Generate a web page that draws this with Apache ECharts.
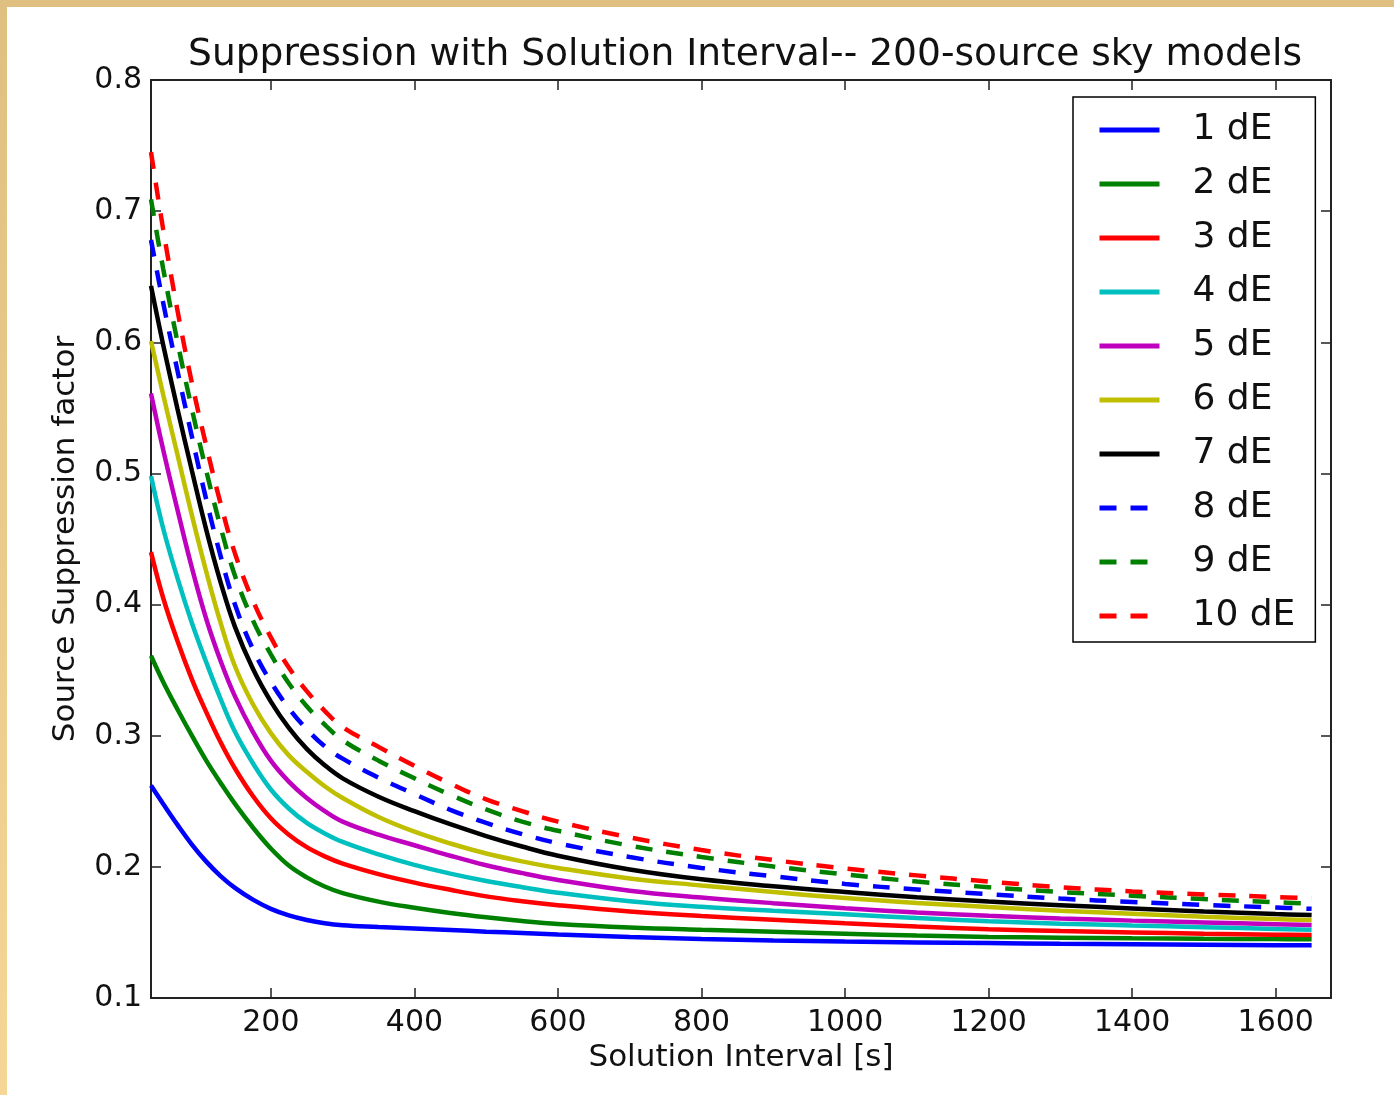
<!DOCTYPE html>
<html>
<head>
<meta charset="utf-8">
<script src="https://cdn.jsdelivr.net/npm/echarts@6/dist/echarts.min.js"></script>
<style>
  html, body { margin: 0; padding: 0; background: #fff; }
  #wrap { position: relative; width: 1394px; height: 1095px; background: #fff; overflow: hidden; }
  #chart { position: absolute; left: 0; top: 0; width: 1394px; height: 1095px; }
  #bandTop { position: absolute; left: 0; top: 0; width: 1394px; height: 7px; background: #dfc080; z-index: 5; }
  #bandLeft { position: absolute; left: 0; top: 0; width: 7px; height: 1095px; background: linear-gradient(#dfc080, #f6d696); z-index: 5; }
</style>
</head>
<body>
<div id="wrap">
  <div id="chart"></div>
  <div id="bandTop"></div>
  <div id="bandLeft"></div>
</div>
<script>
// Solution interval [s]
const xValues = [33, 50, 70, 90, 110, 130, 150, 175, 200, 225, 250, 275, 300, 350, 400, 450, 500, 550, 600, 700, 800, 900, 1000, 1100, 1200, 1300, 1400, 1500, 1600, 1650];

const dE1 = [0.262, 0.248, 0.232, 0.217, 0.204, 0.193, 0.184, 0.175, 0.168, 0.163, 0.1595, 0.157, 0.1555, 0.1542, 0.153, 0.1518, 0.1506, 0.1495, 0.1484, 0.1465, 0.145, 0.1439, 0.143, 0.1424, 0.1419, 0.1414, 0.141, 0.1406, 0.1403, 0.1402];
const dE2 = [0.361, 0.341, 0.320, 0.300, 0.281, 0.264, 0.248, 0.230, 0.214, 0.201, 0.192, 0.185, 0.180, 0.1735, 0.1688, 0.1648, 0.1615, 0.1587, 0.1565, 0.1538, 0.152, 0.1505, 0.149, 0.1476, 0.1466, 0.146, 0.1455, 0.1451, 0.1449, 0.1448];
const dE3 = [0.440, 0.405, 0.372, 0.343, 0.318, 0.295, 0.275, 0.254, 0.237, 0.2245, 0.215, 0.208, 0.2025, 0.1945, 0.188, 0.1825, 0.1775, 0.1738, 0.1708, 0.166, 0.1625, 0.1597, 0.157, 0.1545, 0.1525, 0.151, 0.150, 0.149, 0.1483, 0.148];
const dE4 = [0.498, 0.458, 0.420, 0.386, 0.356, 0.328, 0.303, 0.279, 0.259, 0.2445, 0.2335, 0.2255, 0.219, 0.2095, 0.2015, 0.1948, 0.1892, 0.1845, 0.1803, 0.1738, 0.1695, 0.1665, 0.1638, 0.161, 0.1585, 0.1567, 0.1553, 0.154, 0.1527, 0.152];
const dE5 = [0.561, 0.518, 0.472, 0.428, 0.389, 0.357, 0.330, 0.303, 0.281, 0.265, 0.2525, 0.2425, 0.2345, 0.2245, 0.2165, 0.2085, 0.2012, 0.1952, 0.190, 0.1818, 0.1766, 0.1723, 0.1685, 0.1652, 0.1627, 0.1607, 0.159, 0.1576, 0.1563, 0.1556];
const dE6 = [0.601, 0.560, 0.514, 0.468, 0.425, 0.386, 0.353, 0.324, 0.302, 0.285, 0.2725, 0.2615, 0.2525, 0.238, 0.2268, 0.2178, 0.2102, 0.2042, 0.1992, 0.1912, 0.1858, 0.1808, 0.1762, 0.1725, 0.1693, 0.1666, 0.1642, 0.162, 0.1602, 0.1595];
const dE7 = [0.643, 0.598, 0.549, 0.502, 0.457, 0.417, 0.383, 0.351, 0.326, 0.306, 0.290, 0.2775, 0.2675, 0.2535, 0.2425, 0.2325, 0.2235, 0.2155, 0.2085, 0.198, 0.1905, 0.1852, 0.1808, 0.1768, 0.1735, 0.1708, 0.1683, 0.166, 0.164, 0.1632];
const dE8 = [0.678, 0.630, 0.578, 0.528, 0.480, 0.437, 0.400, 0.366, 0.341, 0.321, 0.305, 0.292, 0.2825, 0.268, 0.2555, 0.2435, 0.2335, 0.225, 0.218, 0.2075, 0.1992, 0.1928, 0.187, 0.1828, 0.1792, 0.1758, 0.1732, 0.171, 0.169, 0.168];
const dE9 = [0.709, 0.656, 0.600, 0.549, 0.502, 0.459, 0.422, 0.388, 0.362, 0.340, 0.3225, 0.3085, 0.2965, 0.281, 0.2675, 0.255, 0.2438, 0.2345, 0.2275, 0.2162, 0.2075, 0.2003, 0.1942, 0.1888, 0.1845, 0.1808, 0.178, 0.1754, 0.173, 0.172];
const dE10 = [0.745, 0.686, 0.624, 0.569, 0.521, 0.477, 0.439, 0.403, 0.375, 0.352, 0.334, 0.319, 0.3065, 0.2915, 0.277, 0.2635, 0.2515, 0.2425, 0.2345, 0.2225, 0.2128, 0.2052, 0.1988, 0.1935, 0.1888, 0.1845, 0.1813, 0.179, 0.177, 0.176];

const seriesNames = ['1 dE', '2 dE', '3 dE', '4 dE', '5 dE', '6 dE', '7 dE', '8 dE', '9 dE', '10 dE'];
const seriesValues = [dE1, dE2, dE3, dE4, dE5, dE6, dE7, dE8, dE9, dE10];
const seriesColors = ['#0000ff', '#008000', '#ff0000', '#00bfbf', '#bf00bf', '#bfbf00', '#000000', '#0000ff', '#008000', '#ff0000'];
const seriesDashed = [false, false, false, false, false, false, false, true, true, true];

const xTicks = [200, 400, 600, 800, 1000, 1200, 1400, 1600];
const yTicks = [0.1, 0.2, 0.3, 0.4, 0.5, 0.6, 0.7, 0.8];

const FONT = 'DejaVu Sans';
const AXIS_COLOR = '#222';
const TEXT_COLOR = '#111';

const chart = echarts.init(document.getElementById('chart'), null, { renderer: 'canvas' });

const series = seriesNames.map((name, i) => ({
  name: name,
  type: 'line',
  data: xValues.map((x, j) => [x, seriesValues[i][j]]),
  symbol: 'none',
  showSymbol: false,
  smooth: 0.4,
  clip: true,
  z: 2 + i,
  lineStyle: {
    color: seriesColors[i],
    width: 4.5,
    type: seriesDashed[i] ? [17, 14] : 'solid',
    cap: 'butt'
  },
  itemStyle: { color: seriesColors[i] },
  emphasis: { disabled: true },
  animation: false
}));

const xCommon = {
  type: 'value', min: 33, max: 1677,
  axisLine: { show: true, onZero: false, lineStyle: { color: AXIS_COLOR, width: 2 } },
  axisTick: { show: true, inside: true, length: 10, customValues: xTicks, lineStyle: { color: AXIS_COLOR, width: 1.5 } },
  splitLine: { show: false }
};
const yCommon = {
  type: 'value', min: 0.1, max: 0.8, interval: 0.1,
  axisLine: { show: true, onZero: false, lineStyle: { color: AXIS_COLOR, width: 2 } },
  axisTick: { show: true, inside: true, length: 10, customValues: yTicks, lineStyle: { color: AXIS_COLOR, width: 1.5 } },
  splitLine: { show: false }
};

chart.setOption({
  animation: false,
  backgroundColor: 'transparent',
  title: {
    text: 'Suppression with Solution Interval-- 200-source sky models',
    left: 740, top: 31, textAlign: 'center',
    textStyle: { fontFamily: FONT, fontSize: 37.6, fontWeight: 'normal', color: TEXT_COLOR }
  },
  grid: { left: 151, top: 80, width: 1180, height: 918, containLabel: false },
  legend: {
    orient: 'vertical', left: 1073, top: 97,
    padding: [13, 20, 6, 24],
    itemWidth: 60, itemHeight: 1, itemGap: 14,
    borderColor: '#000', borderWidth: 1.5, backgroundColor: '#fff',
    lineStyle: { width: 5 },
    itemStyle: { opacity: 0 },
    textStyle: { fontFamily: FONT, fontSize: 36, color: TEXT_COLOR, lineHeight: 40, padding: [0, 0, 0, 28] },
    data: seriesNames
  },
  xAxis: [
    Object.assign({}, xCommon, {
      position: 'bottom',
      name: 'Solution Interval [s]', nameLocation: 'middle', nameGap: 44,
      nameTextStyle: { fontFamily: FONT, fontSize: 31, color: TEXT_COLOR },
      axisLabel: { show: true, customValues: xTicks, margin: 10, fontFamily: FONT, fontSize: 30, color: TEXT_COLOR,
        formatter: v => String(Math.round(v)) }
    }),
    Object.assign({}, xCommon, { position: 'top', axisLabel: { show: false } })
  ],
  yAxis: [
    Object.assign({}, yCommon, {
      position: 'left',
      name: 'Source Suppression factor', nameLocation: 'middle', nameGap: 70,
      nameTextStyle: { fontFamily: FONT, fontSize: 31, color: TEXT_COLOR },
      axisLabel: { show: true, customValues: yTicks, margin: 9, fontFamily: FONT, fontSize: 30, color: TEXT_COLOR,
        formatter: v => v.toFixed(1) }
    }),
    Object.assign({}, yCommon, { position: 'right', axisLabel: { show: false } })
  ],
  series: series
});
</script>
</body>
</html>
